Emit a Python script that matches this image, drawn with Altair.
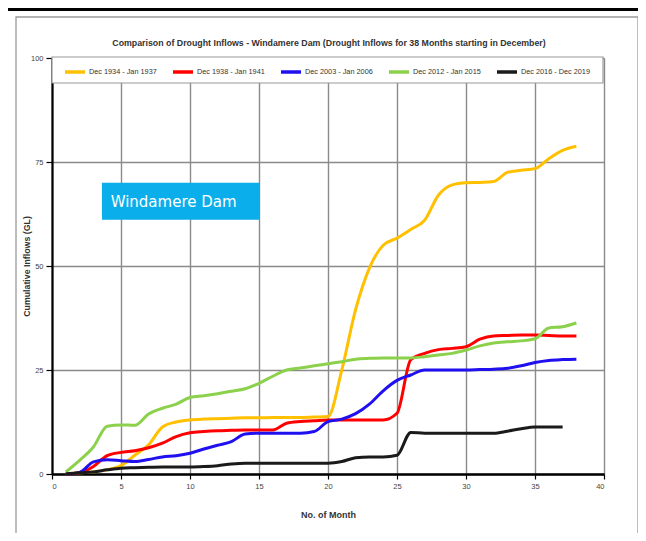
import altair as alt
import pandas as pd

# ---- data ----
series_names = [
    "Dec 1934 - Jan 1937",
    "Dec 1938 - Jan 1941",
    "Dec 2003 - Jan 2006",
    "Dec 2012 - Jan 2015",
    "Dec 2016 - Dec 2019",
]
series_colors = ["#FFC000", "#FF0000", "#2010F0", "#8CD14B", "#1A1A1A"]

months_38 = list(range(1, 39))
months_37 = list(range(1, 38))

s1934 = [0, 0.3, 0.5, 1.0, 2.0, 4.5, 7.0, 11.3, 12.5, 13.0, 13.2, 13.3, 13.4, 13.5,
         13.5, 13.6, 13.6, 13.6, 13.7, 13.8, 25.0, 39.5, 49.5, 55.0, 56.7, 58.8, 61.0,
         67.0, 69.5, 70.0, 70.1, 70.3, 72.5, 73.0, 73.4, 75.8, 77.8, 78.8]
s1938 = [0, 0.3, 1.8, 4.4, 5.2, 5.6, 6.3, 7.4, 9.0, 9.9, 10.2, 10.4, 10.5, 10.6,
         10.6, 10.6, 12.2, 12.6, 12.8, 13.0, 13.0, 13.0, 13.0, 13.0, 14.6, 27.5, 29.0,
         29.9, 30.2, 30.6, 32.4, 33.2, 33.3, 33.4, 33.4, 33.3, 33.2, 33.2]
s2003 = [0, 0.4, 2.9, 3.4, 3.2, 3.0, 3.5, 4.1, 4.4, 5.0, 6.0, 6.9, 7.8, 9.6,
         9.8, 9.8, 9.8, 9.8, 10.2, 12.6, 13.2, 14.5, 16.8, 20.0, 22.5, 23.8, 25.0,
         25.0, 25.0, 25.0, 25.1, 25.2, 25.4, 26.0, 26.8, 27.3, 27.5, 27.6]
s2012 = [0.5, 3.3, 6.5, 11.5, 11.8, 11.7, 14.4, 15.8, 16.8, 18.4, 18.8, 19.3, 19.9, 20.5,
         21.8, 23.5, 25.0, 25.5, 26.0, 26.5, 27.0, 27.6, 27.8, 27.9, 27.9, 27.9, 28.2,
         28.6, 29.0, 29.8, 30.8, 31.5, 31.8, 32.0, 32.5, 35.1, 35.4, 36.3]
s2016 = [0, 0.3, 0.5, 1.0, 1.4, 1.5, 1.6, 1.7, 1.7, 1.7, 1.8, 2.0, 2.4, 2.6,
         2.6, 2.6, 2.6, 2.6, 2.6, 2.6, 3.0, 3.9, 4.1, 4.1, 4.5, 10.0, 9.8,
         9.8, 9.8, 9.8, 9.8, 9.8, 10.3, 10.9, 11.3, 11.3, 11.3]

x_ticks = [0, 5, 10, 15, 20, 25, 30, 35, 40]
y_ticks = [0, 25, 50, 75, 100]

title_text = ("Comparison of Drought Inflows - Windamere Dam "
              "(Drought Inflows for 38 Months starting in December)")
label_text = ["Windamere Dam"]
label_box_x = [3.62]
label_box_x2 = [15.07]
label_box_y = [70.0]
label_box_y2 = [61.1]
label_text_x = [4.25]
label_text_y = [65.5]

# ---- build table ----
rows = []
for name, months, vals in zip(
    series_names,
    [months_38, months_38, months_38, months_38, months_37],
    [s1934, s1938, s2003, s2012, s2016],
):
    for m, v in zip(months, vals):
        rows.append({"Series": name, "Month": m, "Inflow": v})
df = pd.DataFrame(rows)

ann = pd.DataFrame({
    "x": label_box_x, "x2": label_box_x2, "y": label_box_y, "y2": label_box_y2,
    "tx": label_text_x, "ty": label_text_y, "label": label_text,
})
one = pd.DataFrame({"t": [title_text]})

FONT = "Liberation Sans"
W, H = 552, 416

xscale = alt.Scale(domain=[0, 40], nice=False, zero=True)
yscale = alt.Scale(domain=[0, 100], nice=False)

x_axis = alt.Axis(
    values=x_ticks, grid=True, gridColor="#8a8a8a", gridWidth=1.4,
    domainColor="#000", domainWidth=2.5, tickColor="#000", tickSize=5, tickWidth=1.2,
    labelFont=FONT, labelFontSize=7.5, labelColor="#444", labelPadding=3,
    title="No. of Month", titleFont=FONT, titleFontSize=9, titleFontWeight="bold",
    titleColor="#333", titleX=W / 2, titleY=40, titleBaseline="middle",
)
y_axis = alt.Axis(
    values=y_ticks, grid=True, gridColor="#8a8a8a", gridWidth=1.4,
    domainColor="#000", domainWidth=2.2, tickColor="#000", tickSize=6, tickWidth=1.2,
    labelFont=FONT, labelFontSize=7.5, labelColor="#444", labelPadding=3,
    title="Cumulative Inflows (GL)", titleFont=FONT, titleFontSize=8.8,
    titleFontWeight="bold", titleColor="#333", titleX=-26, titleY=H / 2,
    titleAngle=270, titleBaseline="middle", titleAlign="center",
)

# decorations: outer frame & top black bar
frame = alt.Chart(one).mark_rect(filled=False, stroke="#9a9a9a", strokeWidth=1.3).encode(
    x=alt.value(-36), x2=alt.value(586), y=alt.value(-41), y2=alt.value(600)
)
topbar = alt.Chart(one).mark_rect(color="#000").encode(
    x=alt.value(-44), x2=alt.value(600), y=alt.value(-50), y2=alt.value(-47)
)
title = alt.Chart(one).mark_text(
    font=FONT, fontSize=8.8, fontWeight="bold", color="#333", align="center",
    baseline="middle",
).encode(x=alt.value(W / 2 + 1), y=alt.value(-15), text="t:N")

legend_box = alt.Chart(one).mark_rect(fill="#ffffff", stroke="#9a9a9a", strokeWidth=1.2).encode(
    x=alt.value(0), x2=alt.value(551), y=alt.value(-1), y2=alt.value(25)
)

lines = alt.Chart(df).mark_line(interpolate="monotone", strokeWidth=3).encode(
    x=alt.X("Month:Q", scale=xscale, axis=x_axis),
    y=alt.Y("Inflow:Q", scale=yscale, axis=y_axis),
    color=alt.Color(
        "Series:N",
        scale=alt.Scale(domain=series_names, range=series_colors),
        sort=series_names,
        legend=alt.Legend(
            orient="none", legendX=11, legendY=2, direction="horizontal",
            columns=5, gridAlign="all", columnPadding=8, padding=0,
            symbolType="stroke", symbolSize=400, symbolStrokeWidth=3.5,
            labelFont=FONT, labelFontSize=7.3, labelColor="#333", labelOffset=2,
            labelLimit=200, title=None,
        ),
    ),
    order="Month:Q",
)

ann_box = alt.Chart(ann).mark_rect(color="#0AAEEB").encode(
    x="x:Q", x2="x2:Q", y="y:Q", y2="y2:Q"
)
ann_text = alt.Chart(ann).mark_text(
    font="DejaVu Sans", fontSize=15, color="#ffffff", align="left", baseline="middle",
).encode(x="tx:Q", y="ty:Q", text="label:N")

chart = alt.layer(frame, topbar, title, legend_box, lines, ann_box, ann_text).properties(
    width=W, height=H,
    autosize=alt.AutoSizeParams(type="none"),
    padding={"left": 44, "top": 50, "right": 34, "bottom": 59},
).configure_view(stroke=None).configure(background="#ffffff")

chart.save("out.html", embed_options={"renderer": "svg", "actions": False})
